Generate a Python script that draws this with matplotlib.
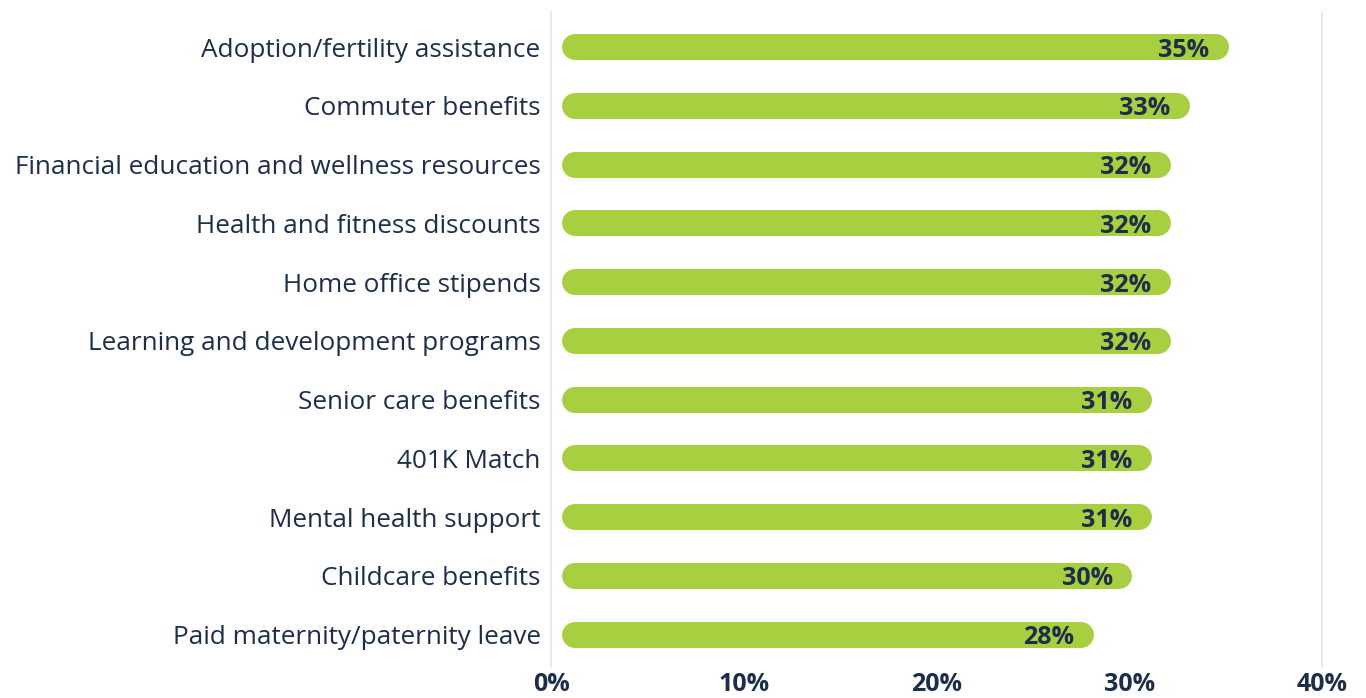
import matplotlib.pyplot as plt

# benefits and share of respondents
categories = [
    "Adoption/fertility assistance",
    "Commuter benefits",
    "Financial education and wellness resources",
    "Health and fitness discounts",
    "Home office stipends",
    "Learning and development programs",
    "Senior care benefits",
    "401K Match",
    "Mental health support",
    "Childcare benefits",
    "Paid maternity/paternity leave",
]
values = [35, 33, 32, 32, 32, 32, 31, 31, 31, 30, 28]
xticks = [0, 10, 20, 30, 40]
xtick_labels = ["0%", "10%", "20%", "30%", "40%"]

green = "#a8cf3f"
navy = "#1c2e4a"
grid = "#e3e5ea"

plt.rcParams["font.family"] = ["Open Sans", "DejaVu Sans"]

fig = plt.figure(figsize=(13.66, 6.98), dpi=100)
ax = fig.add_axes([551 / 1366, 1 - 667 / 698, (1322 - 551) / 1366, (667 - 12) / 698])

y = list(range(len(categories)))
# rounded bars: thick line with round caps (cap radius ~0.67%)
cap = 0.67
starts = [0.55 + cap] * len(values)
ends = [v - cap + 0.15 for v in values]
ax.hlines(y, starts, ends, colors=green, linewidth=18.7, capstyle="round")

for yi, v in zip(y, values):
    ax.text(v - 0.85, yi, f"{v}%", ha="right", va="center_baseline",
            fontsize=18, fontweight="bold", color=navy)

ax.set_xlim(0, 40)
ax.set_ylim(len(categories) - 1 + 0.55, -0.596)
ax.set_yticks(y)
ax.set_yticklabels(categories, fontsize=18.8, color=navy)
ax.set_xticks(xticks)
ax.set_xticklabels(xtick_labels, fontsize=18, fontweight="bold", color=navy)
ax.tick_params(axis="y", length=0, pad=7.5)
ax.tick_params(axis="x", length=0, pad=3.5)

for s in ["top", "bottom"]:
    ax.spines[s].set_visible(False)
for s in ["left", "right"]:
    ax.spines[s].set_color(grid)
    ax.spines[s].set_linewidth(1.2)

fig.savefig("out.png", dpi=100)
